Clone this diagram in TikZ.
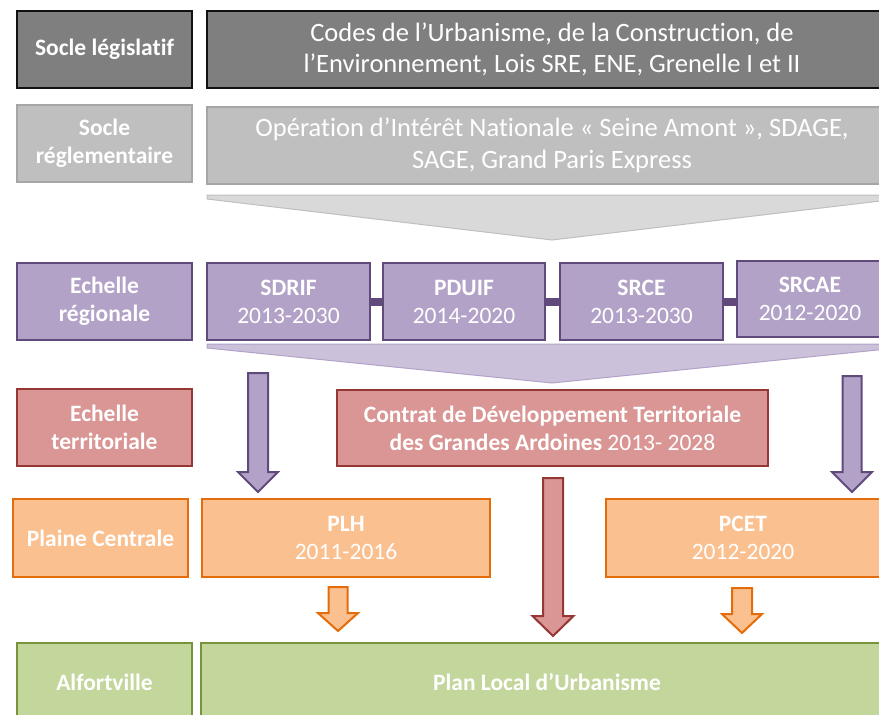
\documentclass[tikz,border=0pt]{standalone}
\usepackage{fontspec}
\setmainfont{Carlito}[RawFeature={-liga;-dlig;-clig}]
\definecolor{gdark}{HTML}{7F7F7F}
\definecolor{gdarkb}{HTML}{111111}
\definecolor{glight}{HTML}{BFBFBF}
\definecolor{glightb}{HTML}{A6A6A6}
\definecolor{gchev}{HTML}{D9D9D9}
\definecolor{pfill}{HTML}{B3A2C7}
\definecolor{pline}{HTML}{604A7B}
\definecolor{pchev}{HTML}{CCC1DA}
\definecolor{rfill}{HTML}{D99694}
\definecolor{rline}{HTML}{953735}
\definecolor{ofill}{HTML}{FAC090}
\definecolor{oline}{HTML}{E46C0A}
\definecolor{grfill}{HTML}{C3D69B}
\definecolor{grline}{HTML}{77933C}
\newcommand\bx[7]{\node[#2, minimum width={(#5-#3)*1pt}, minimum height={(#6-#4)*1pt}] (#1) at ({(#3+#5)/2},{(#4+#6)/2}) {#7};}
\newcommand\blockarr[8]{\draw[fill=#7,draw=#8,line width=2pt,line join=miter]
  ({#1-#4/2},#2) -- ({#1+#4/2},#2) -- ({#1+#4/2},{#3-#6}) -- ({#1+#5/2},{#3-#6}) -- (#1,#3)
  -- ({#1-#5/2},{#3-#6}) -- ({#1-#4/2},{#3-#6}) -- cycle;}
\tikzset{
  boxbase/.style={draw, line width=2pt, text=white, align=center, inner sep=0pt, outer sep=0pt},
  lab/.style={boxbase, font=\bfseries\fontsize{23.5}{28}\selectfont},
  big/.style={boxbase, font=\fontsize{26.5}{31.5}\selectfont},
  gd/.style={fill=gdark, draw=gdarkb, line width=2.5pt},
  gl/.style={fill=glight, draw=glightb},
  pu/.style={fill=pfill, draw=pline},
  rd/.style={fill=rfill, draw=rline},
  og/.style={fill=ofill, draw=oline},
  gr/.style={fill=grfill, draw=grline},
}
\begin{document}
\begin{tikzpicture}[x=1pt,y=-1pt]
\useasboundingbox (0,0) rectangle (879,715);
\clip (0,0) rectangle (879,715);
% row 1
\bx{soclel}{lab,gd}{17}{11}{192}{88}{Socle législatif}
\bx{codes}{big,gd}{207}{11}{897}{88}{Codes de l’Urbanisme, de la Construction, de\\l’Environnement, Lois SRE, ENE, Grenelle I et II}
% row 2
\bx{socler}{lab,gl}{17}{105}{192}{182}{Socle\\réglementaire}
\bx{oin}{big,gl}{207}{107}{897}{184}{Opération d’Intérêt Nationale « Seine Amont », SDAGE,\\SAGE, Grand Paris Express}
% gray chevron
\draw[fill=gchev, draw=glight, line width=1pt] (207,195) -- (897,195) -- (897,199) -- (552,240) -- (207,199) -- cycle;
% row 3
\bx{echreg}{lab,pu}{17}{263}{192}{340}{Echelle\\régionale}
\bx{sdrif}{lab,pu}{207}{263}{370}{340}{SDRIF\\{\mdseries 2013-2030}}
\bx{pduif}{lab,pu}{383}{263}{545}{340}{PDUIF\\{\mdseries 2014-2020}}
\bx{srce}{lab,pu}{560}{263}{723}{340}{SRCE\\{\mdseries 2013-2030}}
\bx{srcae}{lab,pu}{737}{261}{883}{337}{SRCAE\\{\mdseries 2012-2020}}
\draw[pline, line width=8pt] (sdrif.east) -- (pduif.west);
\draw[pline, line width=8pt] (pduif.east) -- (srce.west);
\draw[pline, line width=8pt] (srce.east) -- (srce.east -| srcae.west);
% purple chevron
\draw[fill=pchev, draw=pfill, line width=1pt] (207,344) -- (897,344) -- (897,348) -- (552,383) -- (207,348) -- cycle;
% row 4
\bx{echterr}{lab,rd}{17}{389}{192}{466}{Echelle\\territoriale}
\bx{contrat}{lab,rd}{337}{390}{768}{466}{Contrat de Développement Territoriale\\des Grandes Ardoines {\mdseries 2013- 2028}}
% row 5
\bx{plaine}{lab,og}{13}{499}{188}{577}{Plaine Centrale}
\bx{plh}{lab,og}{202}{499}{490}{577}{PLH\\{\mdseries 2011-2016}}
\bx{pcet}{lab,og}{606}{499}{880}{577}{PCET\\{\mdseries 2012-2020}}
% row 6
\bx{alf}{lab,gr}{17}{643}{192}{722}{Alfortville}
\bx{plu}{lab,gr}{201}{643}{893}{722}{Plan Local d’Urbanisme}
% block arrows
\blockarr{258}{373}{492}{20}{40}{20}{pfill}{pline}
\blockarr{852}{376}{492}{19}{40}{20}{pfill}{pline}
\blockarr{553}{478}{636}{20}{41}{20}{rfill}{rline}
\blockarr{338}{587}{631}{19}{40}{18}{ofill}{oline}
\blockarr{742}{588}{633}{20}{40}{19}{ofill}{oline}
\end{tikzpicture}
\end{document}
